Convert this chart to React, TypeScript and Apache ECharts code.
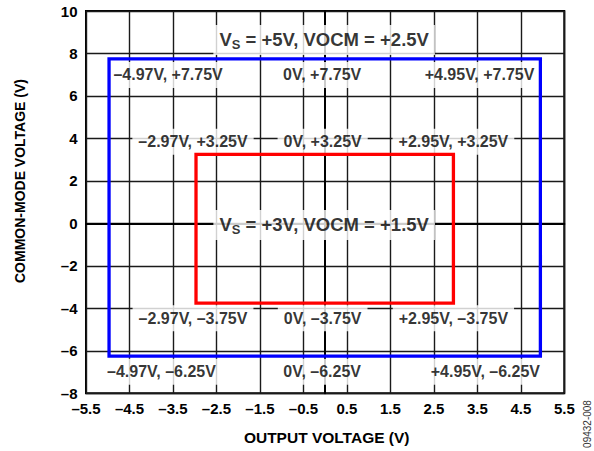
import React, { useEffect, useRef } from "react";
import * as echarts from "echarts";

// Axis ranges and ticks
const xMin = -5.5;
const xMax = 5.5;
const xStep = 1;
const yMin = -8;
const yMax = 10;
const yStep = 2;

// Output/common-mode voltage ranges (V)
const blueX = [-4.97, 4.95];
const blueY = [-6.25, 7.75];
const redX = [-2.97, 2.95];
const redY = [-3.75, 3.25];
const centerOutput = 0;

// Supply conditions
const supplyV = [5, 3];
const vocmV = [2.5, 1.5];

const xAxisTitle = "OUTPUT VOLTAGE (V)";
const yAxisTitle = "COMMON-MODE VOLTAGE (V)";
const figureCode = "09432-008";

const FONT = "'Liberation Sans', Arial, Helvetica, sans-serif";
const DASH = "\u2013";

function vfmt(v: number): string {
  if (v === 0) return "0V";
  return (v > 0 ? "+" : DASH) + Math.abs(v).toFixed(2) + "V";
}
function numFmt(v: number, digits: number): string {
  const s = Math.abs(v).toFixed(digits);
  return v < 0 ? DASH + s : s;
}

function rectPath(xs: number[], ys: number[]) {
  return [
    [xs[0], ys[1]],
    [xs[1], ys[1]],
    [xs[1], ys[0]],
    [xs[0], ys[0]],
    [xs[0], ys[1]],
  ];
}

const labelBase = {
  show: true,
  color: "#000",
  fontFamily: FONT,
  fontWeight: "bold" as const,
  fontSize: 16,
  backgroundColor: "#fff",
  padding: [5, 6],
  position: "inside" as const,
};

function cornerItem(x: number, y: number, align: string, dx: number, dy: number) {
  return {
    value: [x, y],
    label: {
      ...labelBase,
      formatter: vfmt(x) + ", " + vfmt(y),
      align,
      verticalAlign: "middle",
      offset: [dx, dy],
    },
  };
}

function buildLabels() {
  const items: any[] = [];
  // blue top row (below line)
  items.push(cornerItem(blueX[0], blueY[1], "left", -1.6, 16.2));
  items.push(cornerItem(centerOutput, blueY[1], "center", -3, 16.2));
  items.push(cornerItem(blueX[1], blueY[1], "right", 0, 16.2));
  // blue bottom row (below line)
  items.push(cornerItem(blueX[0], blueY[0], "left", -8, 15.5));
  items.push(cornerItem(centerOutput, blueY[0], "center", -3, 15.5));
  items.push(cornerItem(blueX[1], blueY[0], "right", 5.6, 15.5));
  // red top row (above line)
  items.push(cornerItem(redX[0], redY[1], "center", -3, -12.7));
  items.push(cornerItem(centerOutput, redY[1], "center", -2.5, -12.7));
  items.push(cornerItem(redX[1], redY[1], "center", 0, -12.7));
  // red bottom row (below line)
  items.push(cornerItem(redX[0], redY[0], "center", -3, 15.3));
  items.push(cornerItem(centerOutput, redY[0], "center", -2.5, 15.3));
  items.push(cornerItem(redX[1], redY[0], "center", 0, 15.3));
  return items;
}

function titleItem(x: number, y: number, vs: number, vocm: number, dy: number) {
  return {
    value: [x, y],
    label: {
      show: true,
      position: "inside",
      formatter: "{a|V}{s|S}{a| = +" + vs + "V, VOCM = +" + vocm.toFixed(1) + "V}",
      backgroundColor: "#fff",
      padding: [4, 6],
      align: "center",
      verticalAlign: "middle",
      offset: [-1, dy],
      rich: {
        a: {
          fontFamily: FONT,
          fontWeight: "bold",
          fontSize: 18.5,
          lineHeight: 22,
          color: "#000",
        },
        s: {
          fontFamily: FONT,
          fontWeight: "bold",
          fontSize: 13,
          lineHeight: 13,
          verticalAlign: "bottom",
          color: "#000",
        },
      },
    },
  };
}

export default function App() {
  const ref = useRef<HTMLDivElement>(null);

  useEffect(() => {
    if (!ref.current) return;
    const chart = echarts.init(ref.current, undefined, { renderer: "svg" });

    const titles = [
      titleItem(centerOutput, (yMax + blueY[1]) / 2, supplyV[0], vocmV[0], 5),
      titleItem(centerOutput, (redY[0] + redY[1]) / 2, supplyV[1], vocmV[1], -3.7),
    ];

    const option: any = {
      animation: false,
      backgroundColor: "#fff",
      grid: {
        left: 86,
        top: 11,
        right: 29.7,
        bottom: 57.7,
        show: true,
        borderColor: "#000",
        borderWidth: 2,
        backgroundColor: "transparent",
      },
      xAxis: {
        type: "value",
        min: xMin,
        max: xMax,
        interval: xStep,
        axisLine: { show: true, lineStyle: { color: "#000", width: 2 } },
        axisTick: { show: false },
        splitLine: { show: true, lineStyle: { color: "#1a1a1a", width: 1.4 } },
        axisLabel: {
          color: "#000",
          fontFamily: FONT,
          fontWeight: "bold",
          fontSize: 15,
          margin: 8,
          formatter: (v: number) => numFmt(v, 1),
        },
      },
      yAxis: {
        type: "value",
        min: yMin,
        max: yMax,
        interval: yStep,
        axisLine: { show: true, lineStyle: { color: "#000", width: 2 } },
        axisTick: { show: false },
        splitLine: { show: true, lineStyle: { color: "#1a1a1a", width: 1.4 } },
        axisLabel: {
          color: "#000",
          fontFamily: FONT,
          fontWeight: "bold",
          fontSize: 15,
          margin: 8.5,
          formatter: (v: number) => numFmt(v, 0),
        },
      },
      graphic: [
        {
          type: "text",
          x: 326.7,
          y: 437.5,
          style: {
            text: xAxisTitle,
            fontFamily: FONT,
            fontWeight: "bold",
            fontSize: 15.5,
            fill: "#000",
            align: "center",
            verticalAlign: "middle",
          },
        },
        {
          type: "text",
          x: 20,
          y: 181,
          rotation: Math.PI / 2,
          style: {
            text: yAxisTitle,
            fontFamily: FONT,
            fontWeight: "bold",
            fontSize: 14,
            fill: "#000",
            align: "center",
            verticalAlign: "middle",
          },
        },
        {
          type: "text",
          x: 587.5,
          y: 424,
          rotation: Math.PI / 2,
          style: {
            text: figureCode,
            fontFamily: FONT,
            fontSize: 10,
            fill: "#333",
            align: "center",
            verticalAlign: "middle",
          },
        },
      ],
      series: [
        {
          type: "scatter",
          z: 3,
          silent: true,
          symbolSize: 1,
          itemStyle: { color: "rgba(0,0,0,0)" },
          emphasis: { disabled: true },
          data: [...buildLabels(), ...titles],
        },
        {
          type: "line",
          z: 5,
          silent: true,
          showSymbol: false,
          symbol: "none",
          data: rectPath(blueX, blueY),
          lineStyle: { color: "#0000ff", width: 3.3, cap: "square", join: "miter" },
        },
        {
          type: "line",
          z: 5,
          silent: true,
          showSymbol: false,
          symbol: "none",
          data: rectPath(redX, redY),
          lineStyle: { color: "#ff0000", width: 3.3, cap: "square", join: "miter" },
        },
      ],
    };

    chart.setOption(option);
    return () => chart.dispose();
  }, []);

  return (
    <div
      ref={ref}
      style={{ position: "fixed", left: 0, top: 0, width: 594, height: 451 }}
    />
  );
}
